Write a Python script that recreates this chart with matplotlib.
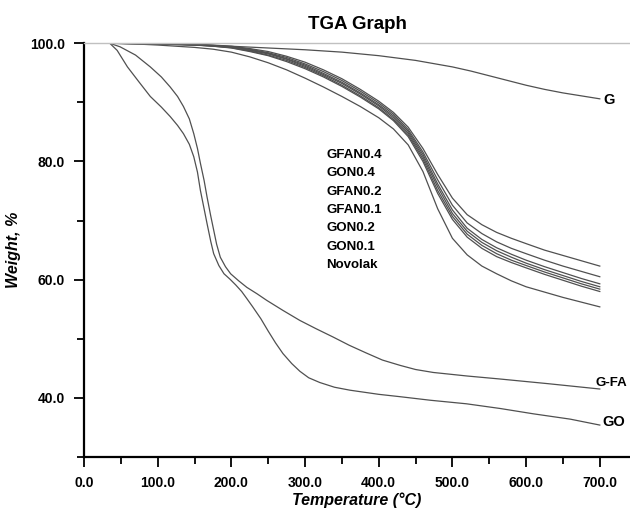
import numpy as np
import matplotlib
matplotlib.use('Agg')
import matplotlib.pyplot as plt
from matplotlib.ticker import MultipleLocator, FormatStrFormatter

plt.rcParams['font.family'] = ['Liberation Sans', 'DejaVu Sans']

# Composite / novolak curves share one temperature grid
temp_cluster = [35, 75, 100, 125, 150, 175, 200, 225, 250, 275, 300, 325, 350, 375, 400,
                420, 440, 460, 480, 500, 520, 540, 560, 580, 600, 625, 650, 675, 700]
gfan04 = [100, 99.98, 99.95, 99.9, 99.85, 99.7, 99.5, 99.1, 98.6, 97.8, 96.8, 95.5, 94.0, 92.2, 90.2,
          88.3, 85.8, 82.2, 77.8, 73.8, 71.0, 69.3, 68.0, 67.0, 66.1, 65.0, 64.1, 63.2, 62.3]
gon04 = [100, 99.97, 99.93, 99.88, 99.8, 99.65, 99.4, 99.0, 98.4, 97.6, 96.5, 95.2, 93.7, 91.9, 89.9,
         88.0, 85.4, 81.6, 76.9, 72.6, 69.6, 67.8, 66.4, 65.3, 64.4, 63.3, 62.3, 61.4, 60.5]
gfan02 = [100, 99.96, 99.92, 99.86, 99.78, 99.6, 99.35, 98.9, 98.3, 97.4, 96.3, 94.9, 93.4, 91.6, 89.6,
          87.7, 85.1, 81.2, 76.2, 71.8, 68.7, 66.8, 65.4, 64.3, 63.3, 62.2, 61.2, 60.2, 59.3]
gfan01 = [100, 99.95, 99.9, 99.84, 99.75, 99.57, 99.3, 98.8, 98.2, 97.3, 96.1, 94.7, 93.2, 91.4, 89.4,
          87.4, 84.8, 80.8, 75.7, 71.2, 68.2, 66.3, 64.9, 63.8, 62.8, 61.7, 60.7, 59.7, 58.8]
gon02 = [100, 99.95, 99.9, 99.83, 99.72, 99.52, 99.25, 98.7, 98.0, 97.1, 95.9, 94.5, 92.9, 91.1, 89.1,
         87.1, 84.5, 80.4, 75.1, 70.7, 67.7, 65.8, 64.4, 63.3, 62.4, 61.3, 60.3, 59.3, 58.4]
gon01 = [100, 99.94, 99.88, 99.8, 99.7, 99.5, 99.2, 98.6, 97.9, 96.9, 95.7, 94.3, 92.7, 90.9, 88.9,
         86.9, 84.2, 80.0, 74.6, 70.2, 67.2, 65.3, 63.9, 62.9, 62.0, 60.9, 59.9, 58.9, 58.0]
novolak = [100, 99.85, 99.7, 99.5, 99.3, 99.0, 98.5, 97.7, 96.7, 95.5, 94.1, 92.6, 91.0, 89.3, 87.4,
           85.5, 82.8, 78.3, 72.0, 67.0, 64.2, 62.3, 61.0, 59.8, 58.8, 57.9, 57.0, 56.2, 55.4]
cluster_names = ['GFAN0.4', 'GON0.4', 'GFAN0.2', 'GFAN0.1', 'GON0.2', 'GON0.1', 'Novolak']

# Graphene
temp_g = [35, 100, 200, 300, 350, 400, 450, 500, 525, 550, 575, 600, 625, 650, 675, 700]
w_g = [100, 99.85, 99.5, 98.9, 98.5, 97.9, 97.1, 96.0, 95.3, 94.5, 93.7, 92.9, 92.2, 91.6, 91.1, 90.6]

# Graphene oxide
temp_go = [35, 45, 59, 75, 90, 105, 117, 127, 135, 143, 149, 154, 158, 163, 167, 172, 176, 183,
           190, 198, 206, 214, 221, 229, 240, 250, 260, 270, 282, 293, 305, 320, 340, 361, 400, 429,
           470, 519, 565, 610, 660, 700]
w_go = [100, 98.8, 96.0, 93.4, 91.0, 89.2, 87.6, 86.1, 84.7, 82.9, 80.8, 78.2, 75.1, 72.0, 69.5,
        66.5, 64.4, 62.4, 61.0, 60.1, 59.1, 58.0, 56.8, 55.4, 53.4, 51.3, 49.3, 47.5, 45.8, 44.5,
        43.4, 42.6, 41.8, 41.3, 40.6, 40.2, 39.6, 39.0, 38.2, 37.3, 36.4, 35.4]

# G-FA
temp_gfa = [35, 49, 70, 90, 105, 117, 127, 135, 143, 149, 154, 158, 163, 167, 172, 176, 180, 185,
            192, 199, 210, 221, 235, 248, 270, 293, 315, 338, 360, 383, 405, 429, 450, 474, 520,
            564, 630, 700]
w_gfa = [100, 99.4, 98.0, 96.0, 94.3, 92.6, 91.0, 89.3, 87.2, 84.7, 82.2, 79.7, 76.8, 74.0, 70.8,
         68.4, 66.0, 63.8, 62.2, 61.0, 59.8, 58.7, 57.6, 56.5, 54.8, 53.1, 51.7, 50.3, 48.9, 47.6,
         46.4, 45.5, 44.8, 44.3, 43.7, 43.2, 42.4, 41.5]

fig = plt.figure(figsize=(6.3, 5.09), dpi=100)
ax = fig.add_axes([0.1333, 0.1022, 0.8667, 0.8128])

lc = '#505050'
for w in [gfan04, gon04, gfan02, gfan01, gon02, gon01, novolak]:
    ax.plot(temp_cluster, w, color=lc, lw=0.9)
ax.plot(temp_g, w_g, color=lc, lw=0.9)
ax.plot(temp_go, w_go, color=lc, lw=0.9)
ax.plot(temp_gfa, w_gfa, color=lc, lw=0.9)

ax.set_xlim(0, 741)
ax.set_ylim(30, 100)

# curve labels
ax.text(705, 90.4, 'G', fontsize=10.5, fontweight='bold', va='center', ha='left')
ax.text(694, 42.6, 'G-FA', fontsize=9.5, fontweight='bold', va='center', ha='left', clip_on=False)
ax.text(704, 36.0, 'GO', fontsize=10.5, fontweight='bold', va='center', ha='left')
for i, name in enumerate(cluster_names):
    ax.text(329, 81.1 - i * 3.1, name, fontsize=9.5, fontweight='bold', va='center', ha='left')

ax.xaxis.set_minor_locator(MultipleLocator(50))
ax.yaxis.set_minor_locator(MultipleLocator(10))
ax.xaxis.set_major_formatter(FormatStrFormatter('%.1f'))
ax.yaxis.set_major_formatter(FormatStrFormatter('%.1f'))
ax.set_xticks([0, 100, 200, 300, 400, 500, 600, 700])
ax.set_yticks([40, 60, 80, 100])

ax.tick_params(which='major', direction='out', length=7.5, width=1.3, labelsize=10, pad=6)
ax.tick_params(which='minor', direction='out', length=5, width=1.3)
for lab in ax.get_xticklabels() + ax.get_yticklabels():
    lab.set_fontweight('bold')

ax.spines['left'].set_linewidth(1.6)
ax.spines['bottom'].set_linewidth(1.6)
ax.spines['right'].set_visible(False)
ax.spines['top'].set_color('#c0c0c0')
ax.spines['top'].set_linewidth(1.0)

ax.set_title('TGA Graph', fontsize=13.5, fontweight='bold', pad=10)
ax.set_xlabel('Temperature (°C)', fontsize=11.5, fontweight='bold', style='italic', labelpad=2)
ax.set_ylabel('Weight, %', fontsize=11.5, fontweight='bold', style='italic', labelpad=7)

fig.savefig('out.png', dpi=100)
